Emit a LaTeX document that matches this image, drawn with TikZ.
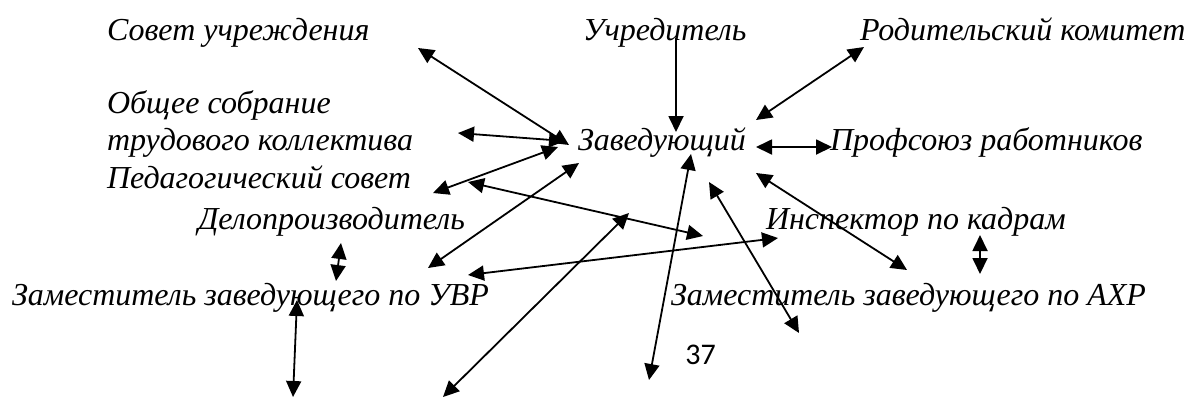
\documentclass[tikz,border=0pt]{standalone}
\usepackage{fontspec}
\setmainfont{Liberation Serif}
\newfontfamily\pagenumfont{Carlito}
\usetikzlibrary{arrows.meta}

\tikzset{
  unit/.style={anchor=base west, inner sep=0pt, outer sep=0pt, font=\fontsize{16}{18}\selectfont\itshape},
  link/.style={line width=0.9pt, {Triangle[length=8pt,width=7.5pt]}-{Triangle[length=8pt,width=7.5pt]}},
  order/.style={line width=0.9pt, -{Triangle[length=8pt,width=7.5pt]}},
}

\begin{document}
\begin{tikzpicture}[x=0.5pt, y=-0.5pt]

    \useasboundingbox (0,0) rectangle (1192,398);

    % units of the structure
    \node[unit] (sovet) at (107,40) {Совет учреждения};
    \node[unit] (uchred) at (583,40) {Учредитель};
    \node[unit] (roditel) at (860,40) {Родительский комитет};
    \node[unit] (obshee) at (107,113) {Общее собрание};
    \node[unit] (trud) at (107,150) {трудового коллектива};
    \node[unit] (zav) at (578,150) {Заведующий};
    \node[unit] (profsoyuz) at (830,150) {Профсоюз работников};
    \node[unit] (pedsovet) at (107,188) {Педагогический совет};
    \node[unit] (delo) at (198,229) {Делопроизводитель};
    \node[unit] (inspektor) at (766,229) {Инспектор по кадрам};
    \node[unit] (zamuvr) at (12,305) {Заместитель заведующего по УВР};
    \node[unit] (zamahr) at (671,305) {Заместитель заведующего по АХР};
    \node[anchor=base west, inner sep=0pt, font=\pagenumfont\fontsize{15}{17}\selectfont] (pagenum) at (685,364) {37};

    % arrow ends
    \coordinate (sovet-a) at (418,48);   \coordinate (zav-a) at (569,145);
    \coordinate (uchred-b) at (676,38);  \coordinate (zav-b) at (676,132);
    \coordinate (roditel-c) at (864,47); \coordinate (zav-c) at (756,120);
    \coordinate (trud-d) at (458,133);   \coordinate (zav-d) at (565,141);
    \coordinate (pedsovet-e) at (433,193); \coordinate (zav-e) at (558,147);
    \coordinate (zav-f) at (756,147);    \coordinate (profsoyuz-f) at (832,147);
    \coordinate (zav-g) at (579,163);    \coordinate (zamuvr-g) at (428,268);
    \coordinate (pedsovet-h) at (468,182); \coordinate (inspektor-h) at (703,236);
    \coordinate (free-i1) at (629,213);  \coordinate (free-i2) at (443,397);
    \coordinate (zav-j) at (691,154);    \coordinate (free-j) at (649,380);
    \coordinate (zav-k) at (709,182);    \coordinate (free-k) at (799,333);
    \coordinate (zav-l) at (756,173);    \coordinate (zamahr-l) at (907,270);
    \coordinate (zamuvr-m) at (468,275); \coordinate (inspektor-m) at (778,238);
    \coordinate (zamuvr-n) at (297,300); \coordinate (free-n) at (293,397);
    \coordinate (delo-o) at (341,243);   \coordinate (zamuvr-o) at (336,281);
    \coordinate (inspektor-p) at (980,235); \coordinate (zamahr-p) at (980,274);

    \draw[link] (sovet-a) -- (zav-a); % council
    \draw[order] (uchred-b) -- (zav-b); % founder
    \draw[link] (roditel-c) -- (zav-c); % parents
    \draw[link] (trud-d) -- (zav-d); % general meeting
    \draw[link] (pedsovet-e) -- (zav-e); % teachers council
    \draw[link] (zav-f) -- (profsoyuz-f); % trade union
    \draw[link] (zav-g) -- (zamuvr-g);
    \draw[link] (pedsovet-h) -- (inspektor-h);
    \draw[link] (free-i1) -- (free-i2);
    \draw[link] (zav-j) -- (free-j);
    \draw[link] (zav-k) -- (free-k);
    \draw[link] (zav-l) -- (zamahr-l);
    \draw[link] (zamuvr-m) -- (inspektor-m);
    \draw[link] (zamuvr-n) -- (free-n);
    \draw[link] (delo-o) -- (zamuvr-o);
    \draw[link] (inspektor-p) -- (zamahr-p);

\end{tikzpicture}
\end{document}
